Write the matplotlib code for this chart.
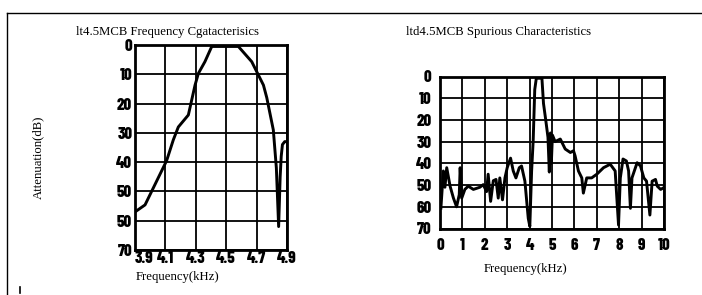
import matplotlib.pyplot as plt
from matplotlib.lines import Line2D

# left chart: pass band
band_freq = [3.9, 3.966, 4.108, 4.152, 4.185, 4.251, 4.295, 4.317, 4.36, 4.405,
             4.58, 4.668, 4.745, 4.767, 4.81, 4.83, 4.845, 4.855, 4.862, 4.87,
             4.885, 4.9]
band_att = [57, 54.6, 39.5, 32.4, 28, 23.9, 13.7, 9.7, 5.7, 0.5,
            0.5, 5.7, 13.7, 18, 29, 42, 62, 45, 38, 34,
            33, 33]
band_xticks = [3.9, 4.1, 4.3, 4.5, 4.7, 4.9]
band_yticklabels = ['0', '10', '20', '30', '40', '50', '50', '70']

# right chart: spurious response 0-10 kHz
spur_freq = [0.04, 0.15, 0.22, 0.3, 0.45, 0.6, 0.74, 0.86, 0.9, 0.97,
             1.11, 1.26, 1.49, 1.78, 1.93, 2.08, 2.15, 2.26, 2.38, 2.5,
             2.6, 2.67, 2.79, 2.9, 3.0, 3.15, 3.27, 3.39, 3.54, 3.64,
             3.79, 3.94, 4.01, 4.09, 4.16, 4.23, 4.3, 4.55, 4.62, 4.72,
             4.82, 4.88, 4.93, 4.97, 5.02, 5.14, 5.37, 5.59, 5.82, 5.96,
             6.03, 6.18, 6.33, 6.4, 6.55, 6.77, 7.0, 7.3, 7.6, 7.82,
             7.97, 8.05, 8.17, 8.32, 8.42, 8.5, 8.57, 8.8, 8.95, 9.1,
             9.22, 9.37, 9.47, 9.62, 9.7, 9.85, 9.97]
spur_att = [60.6, 43.5, 51, 42, 50.5, 56, 60, 54.4, 42, 56,
            52, 50.5, 52, 51, 49.8, 53, 45, 57.5, 48, 47.4,
            56, 46.7, 56.8, 46.7, 42, 37.6, 43.5, 46.7, 42, 41.2,
            48.2, 65.3, 69, 43.5, 29.5, 6, 0.8, 0.8, 12.4, 20,
            28, 44, 26, 40, 27, 30, 28.8, 33.4, 35, 34.2,
            36.5, 43.5, 46.7, 53.7, 46.7, 46.7, 45, 42, 40.4, 43.5,
            68.4, 46.7, 38, 38.9, 43.5, 60.7, 46.7, 39.7, 41.2, 46.7,
            48.2, 63.8, 48.2, 47.4, 50.5, 52, 51.3]
spur_xticks = list(range(0, 11))
spur_yticks = list(range(0, 71, 10))

W, H = 702, 295
serif = 'Liberation Serif'
tickfont = ['Barlow Condensed', 'DejaVu Sans']

fig = plt.figure(figsize=(W / 100, H / 100), dpi=100)

def box(x0, y0, x1, y1):
    # pixel box (top-left origin) -> figure fraction rect
    return [x0 / W, 1 - y1 / H, (x1 - x0) / W, (y1 - y0) / H]

def style(ax):
    ax.set_ylim(70, 0)
    ax.grid(True, color='black', lw=1.3)
    ax.set_axisbelow(True)
    for s in ax.spines.values():
        s.set_linewidth(2)
    for lab in ax.get_xticklabels() + ax.get_yticklabels():
        lab.set_family(tickfont)
        lab.set_fontweight('heavy')
        lab.set_fontsize(12)

# left chart
ax1 = fig.add_axes(box(135, 45, 287, 250))
ax1.plot(band_freq, band_att, color='black', lw=2.1)
ax1.set_xlim(3.9, 4.9)
ax1.set_xticks(band_xticks)
ax1.set_xticklabels([str(t) for t in band_xticks])
ax1.set_yticks(spur_yticks)
ax1.set_yticklabels(band_yticklabels)
ax1.tick_params(length=0)
ax1.tick_params(axis='y', pad=2)
ax1.tick_params(axis='x', pad=1)
style(ax1)
ax1.get_xticklabels()[0].set_horizontalalignment('left')

# right chart
ax2 = fig.add_axes(box(440, 76.5, 664, 228.5))
ax2.plot(spur_freq, spur_att, color='black', lw=2.1)
ax2.set_xlim(0, 10)
ax2.set_xticks(spur_xticks)
ax2.set_yticks(spur_yticks)
ax2.tick_params(length=0)
ax2.tick_params(axis='y', pad=6)
ax2.tick_params(axis='x', pad=7)
style(ax2)

# titles / axis labels
fig.text(168 / W, 1 - 32 / H, 'lt4.5MCB Frequency Cgatacterisics',
         family=serif, fontsize=9.2, ha='center', va='center')
fig.text(499 / W, 1 - 32 / H, 'ltd4.5MCB Spurious Characteristics',
         family=serif, fontsize=9.2, ha='center', va='center')
fig.text(38 / W, 1 - 157 / H, 'Attenuation(dB)', family=serif, fontsize=9.2,
         rotation=90, ha='center', va='center')
fig.text(177 / W, 1 - 277 / H, 'Frequency(kHz)', family=serif, fontsize=9.2,
         ha='center', va='center')
fig.text(525 / W, 1 - 269 / H, 'Frequency(kHz)', family=serif, fontsize=9.2,
         ha='center', va='center')

# page frame from the scan
fig.add_artist(Line2D([7 / W, 1], [1 - 13 / H, 1 - 13 / H], color='black', lw=1))
fig.add_artist(Line2D([7 / W, 7 / W], [1 - 13 / H, 0], color='black', lw=1))
fig.add_artist(Line2D([20 / W, 20 / W], [1 - 287 / H, 1 - 293 / H], color='black', lw=1.2))

fig.savefig('out.png', dpi=100)
